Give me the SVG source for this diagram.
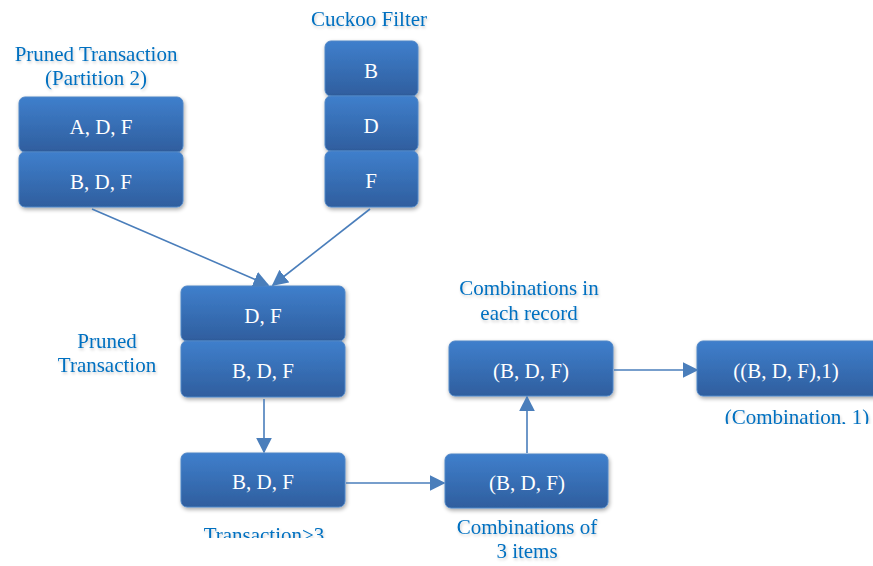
<svg xmlns="http://www.w3.org/2000/svg" width="873" height="566" viewBox="0 0 873 566">
<defs>
<linearGradient id="g" x1="0" y1="0" x2="0" y2="1">
<stop offset="0" stop-color="#3F7FCC"/>
<stop offset="1" stop-color="#2F5E9E"/>
</linearGradient>
<filter id="sh" x="-10%" y="-20%" width="125%" height="150%">
<feGaussianBlur in="SourceAlpha" stdDeviation="2"/>
<feOffset dx="1" dy="2" result="b"/>
<feComponentTransfer><feFuncA type="linear" slope="0.35"/></feComponentTransfer>
<feMerge><feMergeNode/><feMergeNode in="SourceGraphic"/></feMerge>
</filter>
<filter id="tsh" x="-10%" y="-20%" width="120%" height="160%">
<feGaussianBlur in="SourceAlpha" stdDeviation="1.5"/>
<feOffset dx="1" dy="2"/>
<feComponentTransfer><feFuncA type="linear" slope="0.2"/></feComponentTransfer>
<feMerge><feMergeNode/><feMergeNode in="SourceGraphic"/></feMerge>
</filter>
<marker id="ahb" viewBox="0 0 10 10" refX="9" refY="5" markerWidth="16" markerHeight="16" markerUnits="userSpaceOnUse" orient="auto">
<path d="M0,0 L10,5 L0,10 z" fill="#4A7EBB"/>
</marker>
<clipPath id="c1"><rect x="150" y="515" width="250" height="23"/></clipPath>
<clipPath id="c2"><rect x="690" y="400" width="183" height="24"/></clipPath>
</defs>
<style>
.box{fill:url(#g);stroke:#4F86C6;stroke-width:1;filter:url(#sh)}
.bt{font-family:"Liberation Serif","Times New Roman",serif;font-size:21px;fill:#FFFFFF;text-anchor:middle}
.lb{font-family:"Liberation Serif","Times New Roman",serif;font-size:21px;fill:#0070C0;text-anchor:middle;filter:url(#tsh)}
.cn{stroke:#4A7EBB;stroke-width:1.6;fill:none}
</style>
<rect width="873" height="566" fill="#FFFFFF"/>

<g id="label-partition2">
<text class="lb" x="96" y="61">Pruned Transaction</text>
<text class="lb" x="96" y="85">(Partition 2)</text>
</g>
<g id="label-cuckoo"><text class="lb" x="369" y="26">Cuckoo Filter</text></g>
<g id="label-pruned">
<text class="lb" x="107" y="348">Pruned</text>
<text class="lb" x="107" y="372">Transaction</text>
</g>
<g id="label-trans3" clip-path="url(#c1)"><text class="lb" x="264" y="542">Transaction&gt;3</text></g>
<g id="label-comb3">
<text class="lb" x="527" y="534">Combinations of</text>
<text class="lb" x="527" y="558">3 items</text>
</g>
<g id="label-combrec">
<text class="lb" x="529" y="295">Combinations in</text>
<text class="lb" x="529" y="320">each record</text>
</g>
<g id="label-comb1" clip-path="url(#c2)"><text class="lb" x="797" y="424">(Combination, 1)</text></g>

<g id="p2-adf"><rect class="box" x="19" y="97" width="164" height="55" rx="6"/><text class="bt" x="101" y="134">A, D, F</text></g>
<g id="p2-bdf"><rect class="box" x="19" y="152" width="164" height="55" rx="6"/><text class="bt" x="101" y="189">B, D, F</text></g>
<g id="cf-b"><rect class="box" x="325" y="41" width="93" height="55" rx="6"/><text class="bt" x="371" y="78">B</text></g>
<g id="cf-d"><rect class="box" x="325" y="96" width="93" height="55" rx="6"/><text class="bt" x="371" y="133">D</text></g>
<g id="cf-f"><rect class="box" x="325" y="151" width="93" height="56" rx="6"/><text class="bt" x="371" y="188">F</text></g>
<g id="pt-df"><rect class="box" x="181" y="286" width="164" height="55" rx="6"/><text class="bt" x="263" y="323">D, F</text></g>
<g id="pt-bdf"><rect class="box" x="181" y="341" width="164" height="56" rx="6"/><text class="bt" x="263" y="378">B, D, F</text></g>
<g id="t3-bdf"><rect class="box" x="181" y="453" width="164" height="54" rx="6"/><text class="bt" x="263" y="489">B, D, F</text></g>
<g id="c3-bdf"><rect class="box" x="445" y="454" width="163" height="54" rx="6"/><text class="bt" x="527" y="490">(B, D, F)</text></g>
<g id="cr-bdf"><rect class="box" x="449" y="341" width="164" height="55" rx="6"/><text class="bt" x="531" y="378">(B, D, F)</text></g>
<g id="out-bdf1"><rect class="box" x="697" y="341" width="190" height="55" rx="6"/><text class="bt" x="786" y="378">((B, D, F),1)</text></g>

<g id="connectors">
<line class="cn" x1="92" y1="209" x2="268" y2="285" marker-end="url(#ahb)"/>
<line class="cn" x1="370" y1="209" x2="273" y2="285" marker-end="url(#ahb)"/>
<line class="cn" x1="264" y1="399" x2="264" y2="452" marker-end="url(#ahb)"/>
<line class="cn" x1="346" y1="483" x2="444" y2="483" marker-end="url(#ahb)"/>
<line class="cn" x1="527" y1="453" x2="527" y2="397" marker-end="url(#ahb)"/>
<line class="cn" x1="614" y1="370" x2="697" y2="370" marker-end="url(#ahb)"/>
</g>
</svg>
